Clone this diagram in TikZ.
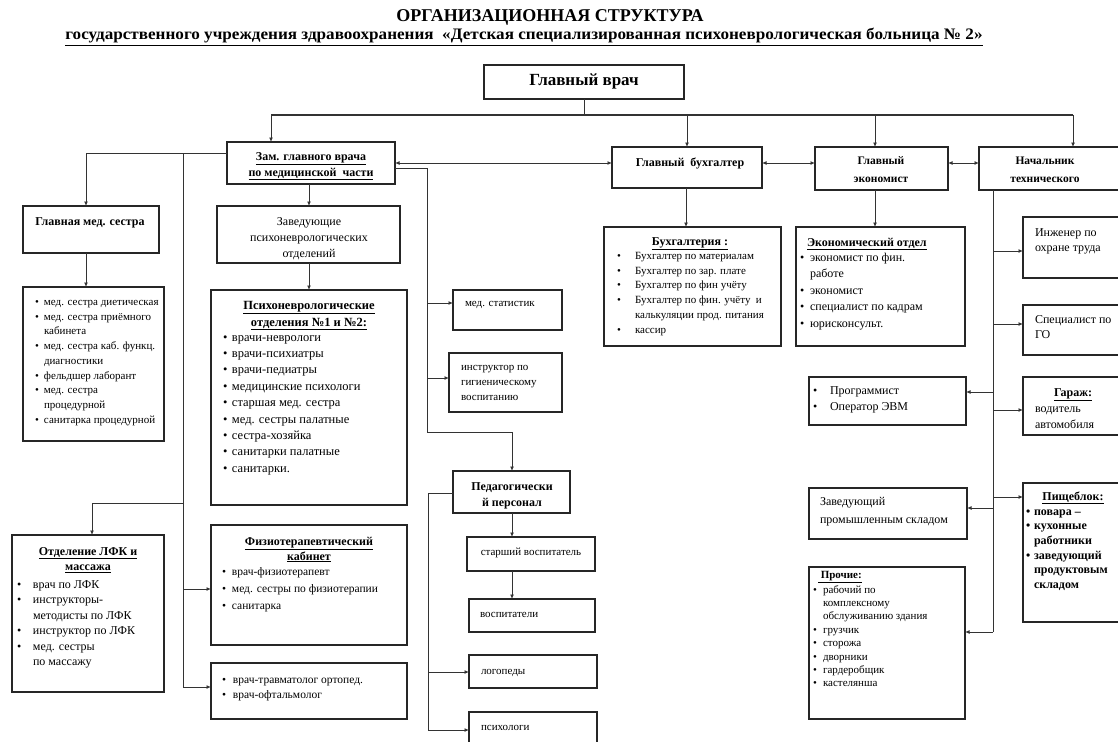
\documentclass[tikz,border=0pt]{standalone}
\usepackage{fontspec}
\setmainfont{Liberation Serif}
\usetikzlibrary{arrows.meta}
\newlength\bw
\newcommand\Fs[2]{\fontsize{#1}{#2}\selectfont}
\newcommand\Bul[1]{\makebox[\bw][l]{\textbullet}#1}
\newcommand\Cont[1]{\hspace*{\bw}#1}
\newcommand\TLeft[1]{\begin{tabular}[t]{@{}l@{}}#1\end{tabular}}
\newcommand\TCent[1]{\begin{tabular}[t]{@{}c@{}}#1\end{tabular}}
\newcommand\OBox[5]{\node[bx, minimum width={#4pt-#2pt}, minimum height={#5pt-#3pt}] (#1) at (#2,#3) {};}
\begin{document}
\begin{tikzpicture}[x=1pt,y=-1pt,
  bx/.style={draw=black!85, line width=1.5pt, anchor=north west, inner sep=0pt, outer sep=0pt},
  ln/.style={draw=black!80, line width=0.9pt},
  arr/.style={ln, -{Latex[length=4.5pt,width=4pt]}},
  darr/.style={ln, {Latex[length=4.5pt,width=4pt]}-{Latex[length=4.5pt,width=4pt]}},
  tx/.style={inner sep=0pt, outer sep=0pt, text=black},
  tb/.style={tx, anchor=base},
  tw/.style={tx, anchor=base west}]
\useasboundingbox (0,0) rectangle (1118,741);
\fill[white] (0,0) rectangle (1118,741);
\clip (0,0) rectangle (1118,741);

% titles
\node[tb, font=\Fs{18}{20}\bfseries] (title) at (550,22) {ОРГАНИЗАЦИОННАЯ СТРУКТУРА};
\node[tb, font=\Fs{16}{20}\bfseries] (subtitle) at (524,40) {\scalebox{1.07}[1]{\underline{государственного учреждения здравоохранения\ \ «Детская специализированная психоневрологическая больница №~2»}}};

% boxes
\OBox{glav}{484}{65}{684}{99}
\OBox{zam}{227}{142}{395}{184}
\OBox{buh}{612}{147}{762}{188}
\OBox{econ}{815}{147}{948}{190}
\OBox{nach}{979}{147}{1130}{190}
\OBox{sestra}{23}{206}{159}{253}
\OBox{sestlist}{23}{287}{164}{441}
\OBox{zav}{217}{206}{400}{263}
\OBox{psy}{211}{290}{407}{505}
\OBox{stat}{453}{290}{562}{330}
\OBox{instr}{449}{353}{562}{412}
\OBox{ped}{453}{471}{570}{513}
\OBox{star}{467}{537}{595}{571}
\OBox{vosp}{469}{599}{595}{632}
\OBox{logo}{469}{655}{597}{688}
\OBox{psih}{469}{712}{597}{760}
\OBox{lfk}{12}{535}{164}{692}
\OBox{fizio}{211}{525}{407}{645}
\OBox{travm}{211}{663}{407}{719}
\OBox{buhg}{604}{227}{781}{346}
\OBox{ekot}{796}{227}{965}{346}
\OBox{inzh}{1023}{217}{1130}{278}
\OBox{spgo}{1023}{305}{1130}{355}
\OBox{prog}{809}{377}{966}{425}
\OBox{garazh}{1023}{377}{1130}{435}
\OBox{sklad}{809}{488}{967}{539}
\OBox{pishe}{1023}{483}{1130}{622}
\OBox{proch}{809}{567}{965}{719}

% texts
\node[tb, font=\Fs{17}{20}\bfseries] (glav-t) at (584,86) {Главный врач};
\node[tb, font=\Fs{12}{16}\bfseries] (zam-t) at (311,160) {\TCent{\underline{Зам. главного врача}\\ \underline{по медицинской\ \ части}}};
\node[tb, font=\Fs{12}{16}\bfseries] (buh-t) at (690,166) {Главный\ \ бухгалтер};
\node[tb, font=\Fs{11.5}{18}\bfseries] (econ-t) at (881,164) {\TCent{Главный\\ экономист}};
\node[tb, font=\Fs{11.5}{18}\bfseries] (nach-t) at (1045,164) {\TCent{Начальник\\ технического}};
\node[tb, font=\Fs{12}{16}\bfseries] (sestra-t) at (90,225) {Главная мед. сестра};
\node[tw, font=\Fs{11}{14.7}] (sestlist-t) at (35,305.5) {\setlength\bw{9pt}\TLeft{\Bul{мед. сестра диетическая}\\ \Bul{мед. сестра приёмного}\\ \Cont{кабинета}\\ \Bul{мед. сестра каб. функц.}\\ \Cont{диагностики}\\ \Bul{фельдшер лаборант}\\ \Bul{мед. сестра}\\ \Cont{процедурной}\\ \Bul{санитарка процедурной}}};
\node[tb, font=\Fs{12}{16.4}] (zav-t) at (309,225) {\TCent{Заведующие\\ психоневрологических\\ отделений}};
\node[tb, font=\Fs{12.5}{17}\bfseries] (psy-h) at (309,309) {\TCent{\underline{Психоневрологические}\\ \underline{отделения №1 и №2:}}};
\node[tw, font=\Fs{12.5}{16.4}] (psy-l) at (223,341) {\setlength\bw{9pt}\TLeft{\Bul{врачи-неврологи}\\ \Bul{врачи-психиатры}\\ \Bul{врачи-педиатры}\\ \Bul{медицинские психологи}\\ \Bul{старшая мед. сестра}\\ \Bul{мед. сестры палатные}\\ \Bul{сестра-хозяйка}\\ \Bul{санитарки палатные}\\ \Bul{санитарки.}}};
\node[tw, font=\Fs{11}{15}] (stat-t) at (465,306.5) {мед. статистик};
\node[tw, font=\Fs{11}{15}] (instr-t) at (461,370.5) {\TLeft{инструктор по\\ гигиеническому\\ воспитанию}};
\node[tb, font=\Fs{12}{16}\bfseries] (ped-t) at (512,490) {\TCent{Педагогически\\ й персонал}};
\node[tb, font=\Fs{11}{15}] (star-t) at (531,555.5) {старший воспитатель};
\node[tw, font=\Fs{11}{15}] (vosp-t) at (480,617.5) {воспитатели};
\node[tw, font=\Fs{11}{15}] (logo-t) at (481,674.5) {логопеды};
\node[tw, font=\Fs{11}{15}] (psih-t) at (481,730.5) {психологи};
\node[tb, font=\Fs{12}{15.5}\bfseries] (lfk-h) at (88,555) {\TCent{\underline{Отделение ЛФК и}\\ \underline{массажа}}};
\node[tw, font=\Fs{12}{15.5}] (lfk-l) at (17,588) {\setlength\bw{16pt}\TLeft{\Bul{врач по ЛФК}\\ \Bul{инструкторы-}\\ \Cont{методисты по ЛФК}\\ \Bul{инструктор по ЛФК}\\ \Bul{мед. сестры}\\ \Cont{по массажу}}};
\node[tb, font=\Fs{12}{15}\bfseries] (fizio-h) at (309,545) {\TCent{\underline{Физиотерапевтический}\\ \underline{кабинет}}};
\node[tw, font=\Fs{11.5}{16.8}] (fizio-l) at (222,575.6) {\setlength\bw{10pt}\TLeft{\Bul{врач-физиотерапевт}\\ \Bul{мед. сестры по физиотерапии}\\ \Bul{санитарка}}};
\node[tw, font=\Fs{11.5}{15}] (travm-l) at (222,683.6) {\setlength\bw{11pt}\TLeft{\Bul{врач-травматолог ортопед.}\\ \Bul{врач-офтальмолог}}};
\node[tb, font=\Fs{12}{15}\bfseries] (buhg-h) at (690,245) {\underline{Бухгалтерия :}};
\node[tw, font=\Fs{11}{14.7}] (buhg-l) at (617,259.5) {\setlength\bw{18pt}\TLeft{\Bul{Бухгалтер по материалам}\\ \Bul{Бухгалтер по зар. плате}\\ \Bul{Бухгалтер по фин учёту}\\ \Bul{Бухгалтер по фин. учёту\ \ и}\\ \Cont{калькуляции прод. питания}\\ \Bul{кассир}}};
\node[tw, font=\Fs{12}{15}\bfseries] (ekot-h) at (807,246) {\underline{Экономический отдел}};
\node[tw, font=\Fs{12}{16.5}] (ekot-l) at (800,261) {\setlength\bw{10pt}\TLeft{\Bul{экономист по фин.}\\ \Cont{работе}\\ \Bul{экономист}\\ \Bul{специалист по кадрам}\\ \Bul{юрисконсульт.}}};
\node[tw, font=\Fs{12}{15}] (inzh-t) at (1035,236) {\TLeft{Инженер по\\ охране труда}};
\node[tw, font=\Fs{12}{15}] (spgo-t) at (1035,323) {\TLeft{Специалист по\\ ГО}};
\node[tw, font=\Fs{12}{16}] (prog-l) at (813,394.8) {\setlength\bw{17pt}\TLeft{\Bul{Программист}\\ \Bul{Оператор ЭВМ}}};
\node[tb, font=\Fs{12}{16}\bfseries] (garazh-h) at (1073,396) {\underline{Гараж:}};
\node[tw, font=\Fs{12}{16}] (garazh-t) at (1035,412) {\TLeft{водитель\\ автомобиля}};
\node[tw, font=\Fs{12}{18}] (sklad-t) at (820,505) {\TLeft{Заведующий\\ промышленным складом}};
\node[tb, font=\Fs{12}{15}\bfseries] (pishe-h) at (1073,500) {\underline{Пищеблок:}};
\node[tw, font=\Fs{12}{14.7}\bfseries] (pishe-l) at (1026,515) {\setlength\bw{8pt}\TLeft{\Bul{повара –}\\ \Bul{кухонные}\\ \Cont{работники}\\ \Bul{заведующий}\\ \Cont{продуктовым}\\ \Cont{складом}}};
\node[tw, font=\Fs{11}{14}\bfseries] (proch-h) at (818,578) {\underline{\ Прочие:}};
\node[tw, font=\Fs{11}{13.4}] (proch-l) at (813,593) {\setlength\bw{10pt}\TLeft{\Bul{рабочий по}\\ \Cont{комплексному}\\ \Cont{обслуживанию здания}\\ \Bul{грузчик}\\ \Bul{сторожа}\\ \Bul{дворники}\\ \Bul{гардеробщик}\\ \Bul{кастелянша}}};

% connectors: top
\coordinate (hL) at (271,115);
\coordinate (hR) at (1073,115);
\coordinate (dE) at (875,115);
\draw[ln] (glav.south) -- (glav.south |- hL);
\draw[ln, line width=1.5pt] (hL) -- (hR);
\draw[arr] (hL) -- (hL |- zam.north);
\draw[arr] (buh.north |- hL) -- (buh.north);
\draw[arr] (dE) -- (dE |- econ.north);
\draw[arr] (hR) -- (hR |- nach.north);
\coordinate (yA) at (0,163);
\draw[darr] (zam.east |- yA) -- (buh.west |- yA);
\draw[darr] (buh.east |- yA) -- (econ.west |- yA);
\draw[darr] (econ.east |- yA) -- (nach.west |- yA);

% left branch
\coordinate (zl) at (183,153);
\coordinate (sx) at (86,153);
\draw[arr] (zam.west |- zl) -- (sx) -- (sx |- sestra.north);
\draw[arr] (sx |- sestra.south) -- (sx |- sestlist.north);
\coordinate (zlb) at (183,687);
\draw[ln] (zl) -- (zlb);
\draw[arr] (zlb) -- (zlb -| travm.west);
\coordinate (l1) at (183,503);
\coordinate (l1b) at (92,503);
\draw[arr] (l1) -- (l1b) -- (l1b |- lfk.north);
\coordinate (l2) at (183,589);
\draw[arr] (l2) -- (l2 -| fizio.west);
\coordinate (cz) at (309,0);
\draw[arr] (cz |- zam.south) -- (cz |- zav.north);
\draw[arr] (cz |- zav.south) -- (cz |- psy.north);

% right of deputy
\coordinate (tz) at (427,168);
\coordinate (tzb) at (427,432);
\coordinate (cp) at (512,432);
\draw[arr] (zam.east |- tz) -- (tz) -- (tzb) -- (cp) -- (cp |- ped.north);
\coordinate (r1) at (427,303);
\draw[arr] (r1) -- (r1 -| stat.west);
\coordinate (r2) at (427,378);
\draw[arr] (r2) -- (r2 -| instr.west);
\coordinate (pl) at (428,493);
\coordinate (plb) at (428,730);
\draw[arr] (ped.west |- pl) -- (pl) -- (plb) -- (plb -| psih.west);
\coordinate (r3) at (428,672);
\draw[arr] (r3) -- (r3 -| logo.west);
\draw[arr] (cp |- ped.south) -- (cp |- star.north);
\draw[arr] (cp |- star.south) -- (cp |- vosp.north);

% accountant, economist
\coordinate (cb) at (686,0);
\draw[arr] (cb |- buh.south) -- (cb |- buhg.north);
\draw[arr] (dE |- econ.south) -- (dE |- ekot.north);

% technical chief
\coordinate (nt) at (993,632);
\draw[ln] (nt |- nach.south) -- (nt);
\coordinate (n1) at (993,251);
\draw[arr] (n1) -- (n1 -| inzh.west);
\coordinate (n2) at (993,324);
\draw[arr] (n2) -- (n2 -| spgo.west);
\coordinate (n3) at (993,392);
\draw[arr] (n3) -- (n3 -| prog.east);
\coordinate (n4) at (993,410);
\draw[arr] (n4) -- (n4 -| garazh.west);
\coordinate (n5) at (993,497);
\draw[arr] (n5) -- (n5 -| pishe.west);
\coordinate (n6) at (993,508);
\draw[arr] (n6) -- (n6 -| sklad.east);
\draw[arr] (nt) -- (nt -| proch.east);
\end{tikzpicture}
\end{document}
